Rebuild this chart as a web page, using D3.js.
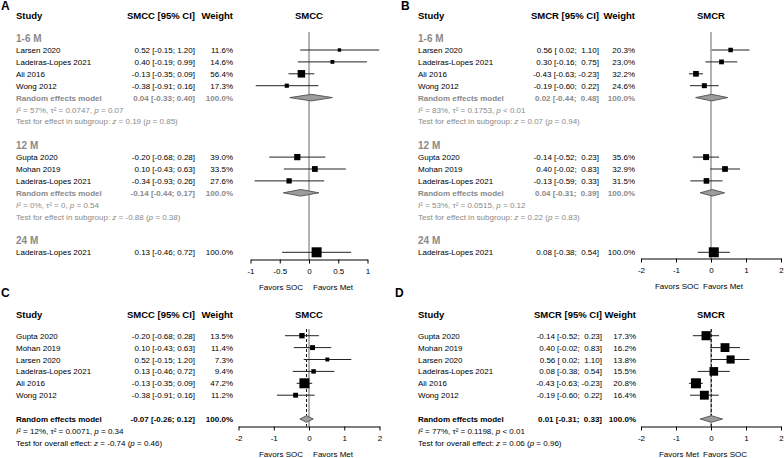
<!DOCTYPE html>
<html>
<head>
<meta charset="utf-8">
<script src="https://cdn.jsdelivr.net/npm/d3@7"></script>
<style>
  body { margin: 0; background: #fff; }
  svg { display: block; font-family: "Liberation Sans", Arial, sans-serif; }
</style>
</head>
<body>
<svg id="chart" width="784" height="458"></svg>
<script>
// ===== data =====
const subgroupLabels = ["1-6 M", "12 M", "24 M"];

// A) SMCC by follow-up
const smccSubStudies = [["Larsen 2020", "Ladeiras-Lopes 2021", "Ali 2016", "Wong 2012"], ["Gupta 2020", "Mohan 2019", "Ladeiras-Lopes 2021"], ["Ladeiras-Lopes 2021"]];
const smccSubEst = [[0.52, 0.40, -0.13, -0.38], [-0.20, 0.10, -0.34], [0.13]];
const smccSubLo = [[-0.15, -0.19, -0.35, -0.91], [-0.68, -0.43, -0.93], [-0.46]];
const smccSubHi = [[1.20, 0.99, 0.09, 0.16], [0.28, 0.63, 0.26], [0.72]];
const smccSubWeight = [[11.6, 14.6, 56.4, 17.3], [39.0, 33.5, 27.6], [100.0]];
const smccSubPooled = [[0.04, -0.33, 0.40], [-0.14, -0.44, 0.17], null];
const smccSubHet = [["57%", "0.0747", "= 0.07"], ["0%", "0", "= 0.54"], null];
const smccSubTest = [["0.19", "= 0.85"], ["-0.88", "= 0.38"], null];

// B) SMCR by follow-up
const smcrSubStudies = [["Larsen 2020", "Ladeiras-Lopes 2021", "Ali 2016", "Wong 2012"], ["Gupta 2020", "Mohan 2019", "Ladeiras-Lopes 2021"], ["Ladeiras-Lopes 2021"]];
const smcrSubEst = [[0.56, 0.30, -0.43, -0.19], [-0.14, 0.40, -0.13], [0.08]];
const smcrSubLo = [[0.02, -0.16, -0.63, -0.60], [-0.52, -0.02, -0.59], [-0.38]];
const smcrSubHi = [[1.10, 0.75, -0.23, 0.22], [0.23, 0.83, 0.33], [0.54]];
const smcrSubWeight = [[20.3, 23.0, 32.2, 24.6], [35.6, 32.9, 31.5], [100.0]];
const smcrSubPooled = [[0.02, -0.44, 0.48], [0.04, -0.31, 0.39], null];
const smcrSubHet = [["83%", "0.1753", "< 0.01"], ["53%", "0.0515", "= 0.12"], null];
const smcrSubTest = [["0.07", "= 0.94"], ["0.22", "= 0.83"], null];

// C) SMCC overall
const smccStudies = ["Gupta 2020", "Mohan 2019", "Larsen 2020", "Ladeiras-Lopes 2021", "Ali 2016", "Wong 2012"];
const smccEst = [-0.20, 0.10, 0.52, 0.13, -0.13, -0.38];
const smccLo = [-0.68, -0.43, -0.15, -0.46, -0.35, -0.91];
const smccHi = [0.28, 0.63, 1.20, 0.72, 0.09, 0.16];
const smccWeight = [13.5, 11.4, 7.3, 9.4, 47.2, 11.2];
const smccPooled = [-0.07, -0.26, 0.12];
const smccHet = ["12%", "0.0071", "= 0.34"];
const smccTest = ["-0.74", "= 0.46"];

// D) SMCR overall
const smcrStudies = ["Gupta 2020", "Mohan 2019", "Larsen 2020", "Ladeiras-Lopes 2021", "Ali 2016", "Wong 2012"];
const smcrEst = [-0.14, 0.40, 0.56, 0.08, -0.43, -0.19];
const smcrLo = [-0.52, -0.02, 0.02, -0.38, -0.63, -0.60];
const smcrHi = [0.23, 0.83, 1.10, 0.54, -0.23, 0.22];
const smcrWeight = [17.3, 16.2, 13.8, 15.5, 20.8, 16.4];
const smcrPooled = [0.01, -0.31, 0.33];
const smcrHet = ["77%", "0.1198", "< 0.01"];
const smcrTest = ["0.06", "= 0.96"];

const ticksNarrow = [-1, -0.5, 0, 0.5, 1];
const ticksWide = [-2, -1, 0, 1, 2];

// ===== helpers =====
const svg = d3.select("#chart");
const GREY = "#8a8a8a";

// rows for subgroup panels
function subgroupRows(studies, est, lo, hi, w, pooled, het, test) {
  const rows = [];
  subgroupLabels.forEach((lab, g) => {
    rows.push({ type: "group", text: lab });
    studies[g].forEach((s, i) => rows.push({ type: "study", name: s, est: est[g][i], lo: lo[g][i], hi: hi[g][i], w: w[g][i] }));
    if (pooled[g]) {
      rows.push({ type: "pooled", sub: true, est: pooled[g][0], lo: pooled[g][1], hi: pooled[g][2] });
      rows.push({ type: "het", sub: true, v: het[g] });
      rows.push({ type: "test", sub: true, label: "Test for effect in subgroup: ", v: test[g] });
    }
    if (g < subgroupLabels.length - 1) rows.push({ type: "blank" });
  });
  return rows;
}

function overallRows(studies, est, lo, hi, w, pooled, het, test) {
  const rows = studies.map((s, i) => ({ type: "study", name: s, est: est[i], lo: lo[i], hi: hi[i], w: w[i] }));
  rows.push({ type: "blank" });
  rows.push({ type: "pooled", sub: false, est: pooled[0], lo: pooled[1], hi: pooled[2] });
  rows.push({ type: "het", sub: false, v: het });
  rows.push({ type: "test", sub: false, label: "Test for overall effect: ", v: test });
  return rows;
}

function drawPanel(cfg) {
  const g = svg.append("g");
  const x = d3.scaleLinear().domain(cfg.domain).range(cfg.range);
  const rows = cfg.rows;
  const y = i => cfg.firstY + i * cfg.step;

  const all = rows.filter(r => r.type === "study" || r.type === "pooled");
  const padLo = all.some(r => r.lo < 0);
  const padHi = all.some(r => r.hi < 0);
  const num = (v, pad) => (v < 0 ? "-" : (pad ? " " : "")) + Math.abs(v).toFixed(2);
  const ciText = r => `${num(r.est, false)} [${num(r.lo, padLo)}; ${num(r.hi, padHi)}]`;
  const wMax = d3.max(rows.filter(r => r.type === "study"), r => r.w);

  // panel letter
  g.append("text").attr("x", cfg.letterX).attr("y", cfg.letterY)
    .attr("font-size", 12).attr("font-weight", "bold").text(cfg.letter);

  // header
  const hy = cfg.headerY + 3.5;
  const head = g.append("g").attr("font-size", 9.5).attr("font-weight", "bold");
  head.append("text").attr("x", cfg.studyX).attr("y", hy).text("Study");
  head.append("text").attr("x", cfg.ciX).attr("y", hy).attr("text-anchor", "end").text(cfg.measure + " [95% CI]");
  head.append("text").attr("x", cfg.weightX).attr("y", hy).attr("text-anchor", "end").text("Weight");
  head.append("text").attr("x", x(0)).attr("y", hy).attr("text-anchor", "middle").text(cfg.measure);

  // reference line at zero
  g.append("line").attr("x1", x(0)).attr("x2", x(0))
    .attr("y1", cfg.refTop).attr("y2", cfg.axisY)
    .attr("stroke", "#6a6a6a").attr("stroke-width", 1);

  // dashed line at pooled estimate (overall panels)
  if (cfg.dashed != null) {
    g.append("line").attr("x1", x(cfg.dashed)).attr("x2", x(cfg.dashed))
      .attr("y1", cfg.refTop).attr("y2", cfg.axisY)
      .attr("stroke", "#111").attr("stroke-width", 1).attr("stroke-dasharray", "3,2");
  }

  rows.forEach((r, i) => {
    const yy = y(i);
    const base = yy + 3;
    if (r.type === "group") {
      g.append("text").attr("x", cfg.studyX).attr("y", yy + 3.5)
        .attr("font-size", 10).attr("font-weight", "bold").attr("fill", GREY).text(r.text);
    } else if (r.type === "study") {
      const t = g.append("g").attr("font-size", 8).attr("fill", "#000");
      t.append("text").attr("x", cfg.studyX).attr("y", base).text(r.name);
      t.append("text").attr("x", cfg.ciX).attr("y", base).attr("text-anchor", "end").attr("xml:space", "preserve").text(ciText(r));
      t.append("text").attr("x", cfg.weightX).attr("y", base).attr("text-anchor", "end").text(r.w.toFixed(1) + "%");
      g.append("line").attr("x1", x(r.lo)).attr("x2", x(r.hi)).attr("y1", yy).attr("y2", yy)
        .attr("stroke", "#222").attr("stroke-width", 1);
      const s = 10 * Math.sqrt(r.w / wMax);
      g.append("rect").attr("x", x(r.est) - s / 2).attr("y", yy - s / 2)
        .attr("width", s).attr("height", s).attr("fill", "#000");
    } else if (r.type === "pooled") {
      const col = r.sub ? GREY : "#000";
      const t = g.append("g").attr("font-size", 8).attr("font-weight", "bold").attr("fill", col);
      t.append("text").attr("x", cfg.studyX).attr("y", base).text("Random effects model");
      t.append("text").attr("x", cfg.ciX).attr("y", base).attr("text-anchor", "end").attr("xml:space", "preserve").text(ciText(r));
      t.append("text").attr("x", cfg.weightX).attr("y", base).attr("text-anchor", "end").text("100.0%");
      const h = 3.3;
      g.append("path")
        .attr("d", `M${x(r.lo)},${yy}L${x(r.est)},${yy - h}L${x(r.hi)},${yy}L${x(r.est)},${yy + h}Z`)
        .attr("fill", "#9c9c9c").attr("stroke", "#505050").attr("stroke-width", 0.9);
    } else if (r.type === "het") {
      const t = g.append("text").attr("x", cfg.studyX).attr("y", base)
        .attr("font-size", 8).attr("fill", r.sub ? GREY : "#000");
      t.append("tspan").attr("font-style", "italic").text("I");
      t.append("tspan").text("\u00b2 = " + r.v[0] + ", \u03c4\u00b2 = " + r.v[1] + ", ");
      t.append("tspan").attr("font-style", "italic").text("p");
      t.append("tspan").text(" " + r.v[2]);
    } else if (r.type === "test") {
      const t = g.append("text").attr("x", cfg.studyX).attr("y", base)
        .attr("font-size", 8).attr("fill", r.sub ? GREY : "#000");
      t.append("tspan").text(r.label);
      t.append("tspan").attr("font-style", "italic").text("z");
      t.append("tspan").text(" = " + r.v[0] + " (");
      t.append("tspan").attr("font-style", "italic").text("p");
      t.append("tspan").text(" " + r.v[1] + ")");
    }
  });

  // x axis
  const ax = g.append("g").attr("transform", `translate(0,${cfg.axisY})`)
    .call(d3.axisBottom(x).tickValues(cfg.ticks).tickSize(4).tickSizeOuter(0).tickPadding(5)
      .tickFormat(d => String(d)));
  ax.selectAll("text").attr("font-size", 8).attr("font-family", "Liberation Sans, Arial, sans-serif").attr("fill", "#000");
  ax.selectAll("line, path").attr("stroke", "#000");

  // favors labels
  const fy = cfg.axisY + 30;
  g.append("text").attr("x", x(0) + cfg.favL).attr("y", fy).attr("font-size", 8)
    .attr("text-anchor", "end").text(cfg.favors[0]);
  g.append("text").attr("x", x(0) + cfg.favR).attr("y", fy).attr("font-size", 8)
    .attr("text-anchor", "start").text(cfg.favors[1]);
}

// ===== panels =====
drawPanel({
  letter: "A", letterX: 1, letterY: 10, measure: "SMCC",
  studyX: 16, ciX: 195, weightX: 233, headerY: 15,
  domain: [-1, 1], range: [250.5, 367.5], ticks: ticksNarrow,
  rows: subgroupRows(smccSubStudies, smccSubEst, smccSubLo, smccSubHi, smccSubWeight, smccSubPooled, smccSubHet, smccSubTest),
  firstY: 38.1, step: 11.9, refTop: 32, axisY: 259.5,
  favors: ["Favors SOC", "Favors Met"], favL: -6, favR: 4
});

drawPanel({
  letter: "B", letterX: 401, letterY: 10, measure: "SMCR",
  studyX: 418, ciX: 599, weightX: 635, headerY: 15,
  domain: [-2, 2], range: [641, 781], ticks: ticksWide,
  rows: subgroupRows(smcrSubStudies, smcrSubEst, smcrSubLo, smcrSubHi, smcrSubWeight, smcrSubPooled, smcrSubHet, smcrSubTest),
  firstY: 38.1, step: 11.9, refTop: 32, axisY: 258.5,
  favors: ["Favors SOC", "Favors Met"], favL: -12, favR: -8
});

drawPanel({
  letter: "C", letterX: 1, letterY: 297, measure: "SMCC",
  studyX: 16, ciX: 195, weightX: 233, headerY: 314,
  domain: [-2, 2], range: [238.5, 379.5], ticks: ticksWide,
  rows: overallRows(smccStudies, smccEst, smccLo, smccHi, smccWeight, smccPooled, smccHet, smccTest),
  firstY: 335.7, step: 11.9, refTop: 329, axisY: 426.5, dashed: smccPooled[0],
  favors: ["Favors SOC", "Favors Met"], favL: -6, favR: 4
});

drawPanel({
  letter: "D", letterX: 395, letterY: 297, measure: "SMCR",
  studyX: 418, ciX: 602, weightX: 636, headerY: 314,
  domain: [-2, 2], range: [641, 781], ticks: ticksWide,
  rows: overallRows(smcrStudies, smcrEst, smcrLo, smcrHi, smcrWeight, smcrPooled, smcrHet, smcrTest),
  firstY: 335.7, step: 11.9, refTop: 329, axisY: 426.5, dashed: smcrPooled[0],
  favors: ["Favors Met", "Favors SOC"], favL: -12, favR: -8
});
</script>
</body>
</html>
